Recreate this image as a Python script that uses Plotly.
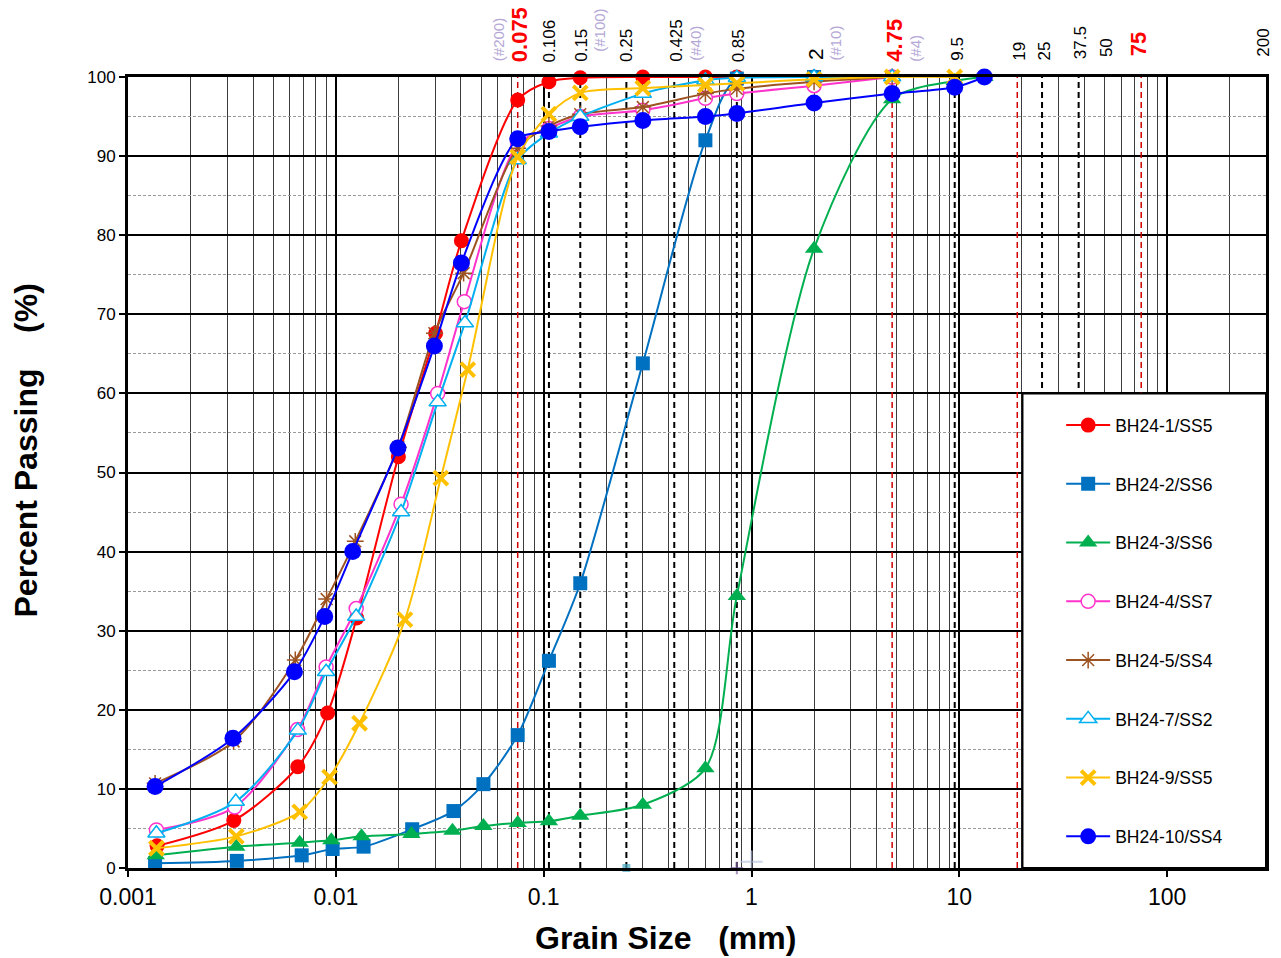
import math
import plotly.graph_objects as go

# ---------------- data ----------------
SERIES_NAMES = ["BH24-1/SS5", "BH24-2/SS6", "BH24-3/SS6", "BH24-4/SS7",
                "BH24-5/SS4", "BH24-7/SS2", "BH24-9/SS5", "BH24-10/SS4"]

s1_x = [0.00138, 0.00323, 0.00656, 0.00913, 0.0126, 0.0200, 0.0302, 0.0402,
        0.075, 0.106, 0.15, 0.3, 0.6, 0.85, 2.0, 4.75]
s1_y = [2.8, 6.0, 12.8, 19.6, 31.6, 52.0, 67.6, 79.3,
        97.1, 99.4, 99.9, 100, 100, 100, 100, 100]

s2_x = [0.00135, 0.00334, 0.00685, 0.00965, 0.0136, 0.0233, 0.0368, 0.0513,
        0.075, 0.106, 0.15, 0.3, 0.6, 0.85, 2.0, 4.75]
s2_y = [0.6, 0.9, 1.6, 2.4, 2.7, 4.9, 7.2, 10.6,
        16.8, 26.2, 36.0, 63.8, 92.0, 99.8, 100, 100]

s3_x = [0.00136, 0.00332, 0.0067, 0.00951, 0.0133, 0.0231, 0.0364, 0.0513,
        0.075, 0.106, 0.15, 0.3, 0.6, 0.85, 2.0, 4.75, 9.5, 13.2]
s3_y = [1.6, 2.7, 3.2, 3.5, 4.0, 4.3, 4.7, 5.3,
        5.7, 5.9, 6.6, 8.0, 12.6, 34.4, 78.3, 97.2, 99.5, 100]

s4_x = [0.00137, 0.00326, 0.00654, 0.00898, 0.01253, 0.0206, 0.0309, 0.0415,
        0.075, 0.106, 0.15, 0.3, 0.6, 0.85, 2.0, 4.75]
s4_y = [4.8, 7.7, 17.5, 25.4, 32.8, 46.0, 60.0, 71.6,
        91.5, 93.5, 95.0, 95.8, 97.3, 97.9, 98.9, 100]

s5_x = [0.00135, 0.00322, 0.00638, 0.00903, 0.0124, 0.0200, 0.0298, 0.0412,
        0.075, 0.106, 0.15, 0.3, 0.6, 0.85, 2.0, 4.75]
s5_y = [10.7, 16.0, 26.3, 34.0, 41.3, 53.2, 67.6, 75.2,
        91.0, 93.8, 95.3, 96.2, 97.9, 98.5, 99.4, 100]

s6_x = [0.00137, 0.00330, 0.00656, 0.00898, 0.01253, 0.0206, 0.0309, 0.0418,
        0.075, 0.106, 0.15, 0.3, 0.6, 0.85, 2.0, 4.75]
s6_y = [4.4, 8.4, 17.4, 24.8, 31.8, 45.0, 58.9, 68.9,
        89.5, 92.9, 95.0, 97.9, 99.6, 99.9, 100, 100]

s7_x = [0.00137, 0.00332, 0.0067, 0.00933, 0.0130, 0.0215, 0.0320, 0.0431,
        0.075, 0.106, 0.15, 0.3, 0.6, 0.85, 2.0, 4.75, 9.5]
s7_y = [2.5, 4.0, 7.1, 11.5, 18.3, 31.4, 49.3, 63.0,
        89.9, 95.3, 98.0, 98.6, 99.0, 99.2, 99.7, 100, 100]

s8_x = [0.00135, 0.00320, 0.00632, 0.00884, 0.01206, 0.0199, 0.0298, 0.0402,
        0.075, 0.106, 0.15, 0.3, 0.6, 0.85, 2.0, 4.75, 9.5, 13.2]
s8_y = [10.3, 16.4, 24.8, 31.8, 40.0, 53.1, 66.0, 76.5,
        92.2, 93.1, 93.7, 94.5, 95.0, 95.4, 96.7, 97.9, 98.7, 100]

# stray empty-series markers seen at the bottom of the chart
stray_x = [0.25, 0.85, 1.0]
stray_y = [0, 0, 0.8]

# sieve reference lines (mm)
SIEVE_BLACK = [0.106, 0.15, 0.25, 0.425, 0.85, 9.5, 25, 37.5]
SIEVE_RED = [0.075, 4.75, 19, 75]

# top labels: text, size value
TOP_TEXT = ["(#200)", "0.075", "0.106", "0.15", "(#100)", "0.25", "0.425", "(#40)",
            "0.85", "2", "(#10)", "4.75", "(#4)", "9.5", "19", "25", "37.5", "50",
            "75", "200"]
TOP_AT = [0.075, 0.075, 0.106, 0.15, 0.15, 0.25, 0.425, 0.425,
          0.85, 2, 2, 4.75, 4.75, 9.5, 19, 25, 37.5, 50, 75, 200]

X_TICKS = [0.001, 0.01, 0.1, 1, 10, 100]
X_TICKTEXT = ["0.001", "0.01", "0.1", "1", "10", "100"]
Y_TICKS = list(range(0, 101, 10))

# ---------------- styles ----------------
RED = "#ff0000"
LAV = "#b4a7d6"
styles = [
    dict(color="#ff0000", marker=dict(symbol="circle", size=15, color="#ff0000")),
    dict(color="#0070c0", marker=dict(symbol="square", size=14, color="#0070c0")),
    dict(color="#00b050", marker=dict(symbol="triangle-up", size=16, color="#00b050")),
    dict(color="#ff33cc", marker=dict(symbol="circle", size=14, color="white",
                                       line=dict(color="#ff33cc", width=1.5))),
    dict(color="#9c5221", marker=dict(symbol="asterisk-open", size=14, color="#9c5221",
                                       line=dict(color="#9c5221", width=1.5))),
    dict(color="#00b0f0", marker=dict(symbol="triangle-up", size=15, color="white",
                                       line=dict(color="#00b0f0", width=1.5))),
    dict(color="#ffc000", marker=dict(symbol="x-thin", size=14, color="#ffc000",
                                       line=dict(color="#ffc000", width=4))),
    dict(color="#0000ff", marker=dict(symbol="circle", size=17, color="#0000ff")),
]

# label styles: (color, size, bold, xshift, bottom pixel offset above plot)
LABEL_STYLE = {
    "(#200)": (LAV, 15, False, -19, 15),
    "0.075": (RED, 22, True, 2, 14),
    "0.106": ("black", 17, False, 1, 14),
    "0.15": ("black", 17, False, 1, 14),
    "(#100)": (LAV, 15, False, 19, 24),
    "0.25": ("black", 17, False, 0, 14),
    "0.425": ("black", 17, False, 2, 14),
    "(#40)": (LAV, 15, False, 21, 15),
    "0.85": ("black", 17, False, 2, 14),
    "2": ("black", 21, False, 1, 16),
    "(#10)": (LAV, 15, False, 21, 15),
    "4.75": (RED, 22, True, 2, 14),
    "(#4)": (LAV, 15, False, 23, 14),
    "9.5": ("black", 17, False, 2, 15),
    "19": ("black", 17, False, 2, 15),
    "25": ("black", 17, False, 2, 15),
    "37.5": ("black", 17, False, 2, 17),
    "50": ("black", 17, False, 2, 19),
    "75": (RED, 22, True, -3, 20),
    "200": ("black", 17, False, 33, 19),
}

fig = go.Figure()

xs = [s1_x, s2_x, s3_x, s4_x, s5_x, s6_x, s7_x, s8_x]
ys = [s1_y, s2_y, s3_y, s4_y, s5_y, s6_y, s7_y, s8_y]

# stray markers (drawn first, beneath)
fig.add_trace(go.Scatter(x=stray_x, y=stray_y, mode="markers", showlegend=False,
                         hoverinfo="skip", cliponaxis=False,
                         marker=dict(symbol=["square", "cross-thin", "cross-thin"],
                                     size=[6, 9, 16],
                                     color=["#4bacc6", "#8064a2", "#b9c4e0"],
                                     line=dict(color=["#4bacc6", "#8064a2", "#b9c4e0"], width=2))))

for name, x, y, st in zip(SERIES_NAMES, xs, ys, styles):
    fig.add_trace(go.Scatter(
        x=x, y=y, name=name, legendgroup=name, mode="lines+markers",
        line=dict(color=st["color"], width=2, shape="spline", smoothing=0.8),
        marker=st["marker"], cliponaxis=False,
    ))

shapes = []
for v in SIEVE_BLACK:
    shapes.append(dict(type="line", xref="x", yref="y", x0=v, x1=v, y0=0, y1=100,
                       line=dict(color="black", width=2, dash="6px,4px"), layer="between"))
for v in SIEVE_RED:
    shapes.append(dict(type="line", xref="x", yref="y", x0=v, x1=v, y0=0, y1=100,
                       line=dict(color="#d00000", width=1.5, dash="6px,4px"), layer="between"))
# legend box
shapes.append(dict(type="rect", xref="paper", yref="y", x0=0.786, x1=1.0, y0=0, y1=60,
                   fillcolor="white", line=dict(color="black", width=2), layer="above"))

annotations = []
for txt, at in zip(TOP_TEXT, TOP_AT):
    col, sz, bold, xs_, yo = LABEL_STYLE[txt]
    annotations.append(dict(
        x=math.log10(at), xref="x", y=1, yref="paper", yanchor="bottom", xanchor="center",
        text=f"<b>{txt}</b>" if bold else txt, textangle=-90, showarrow=False,
        font=dict(family="Liberation Sans, Arial", size=sz, color=col),
        xshift=xs_, yshift=yo, borderpad=0))

annotations.append(dict(
    x=0.472, y=-0.0885, xref="paper", yref="paper", showarrow=False,
    xanchor="center", yanchor="middle",
    text="<b>Grain Size\u00a0\u00a0\u00a0(mm)</b>",
    font=dict(family="Liberation Sans, Arial", size=32, color="black")))
annotations.append(dict(
    x=-0.0895, y=0.528, xref="paper", yref="paper", showarrow=False, textangle=-90,
    xanchor="center", yanchor="middle",
    text="<b>Percent Passing\u00a0\u00a0\u00a0\u00a0(%)</b>",
    font=dict(family="Liberation Sans, Arial", size=32, color="black")))

fig.update_layout(
    width=1281, height=958,
    margin=dict(l=128, r=13, t=77, b=90),
    paper_bgcolor="white", plot_bgcolor="white",
    shapes=shapes, annotations=annotations,
    showlegend=True,
    legend=dict(x=0.820, y=0.5825, xanchor="left", yanchor="top",
                bgcolor="rgba(0,0,0,0)", tracegroupgap=33, itemwidth=44,
                font=dict(family="Liberation Sans, Arial", size=17.5, color="black")),
    xaxis=dict(type="log", range=[-3, 2.4755],
               tickvals=X_TICKS, ticktext=X_TICKTEXT,
               showgrid=True, gridcolor="black", gridwidth=2,
               minor=dict(dtick="D1", showgrid=True, gridcolor="#3c3c3c", gridwidth=1.3, ticks=""),
               showline=True, linecolor="black", linewidth=3, mirror=True,
               ticks="outside", ticklen=6, tickcolor="black", tickwidth=1.5,
               tickfont=dict(family="Liberation Sans, Arial", size=23, color="black"),
               zeroline=False),
    yaxis=dict(range=[0, 100], tickvals=Y_TICKS,
               showgrid=True, gridcolor="black", gridwidth=2,
               minor=dict(dtick=5, showgrid=True, gridcolor="#9a9a9a", gridwidth=1,
                          griddash="3px,2px", ticks=""),
               showline=True, linecolor="black", linewidth=3, mirror=True,
               ticks="outside", ticklen=6, tickcolor="black", tickwidth=1.5,
               tickfont=dict(family="Liberation Sans, Arial", size=17, color="black"),
               zeroline=False),
)

fig.write_html("out.html", config={"displayModeBar": False},
               post_script="document.body.style.margin='0px';")
